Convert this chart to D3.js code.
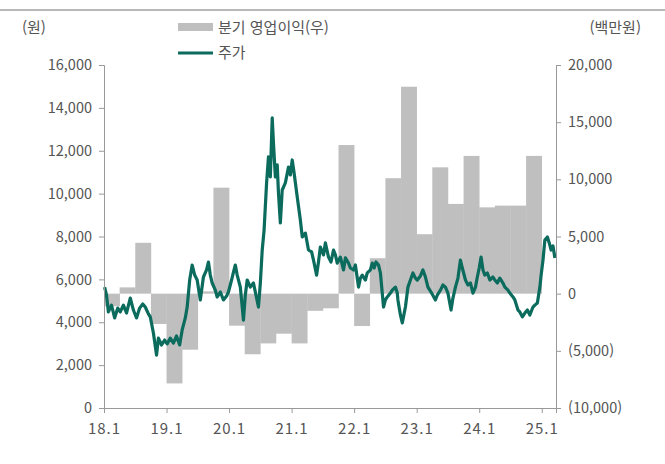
<!DOCTYPE html>
<html lang="ko">
<head>
<meta charset="UTF-8">
<title>분기 영업이익과 주가</title>
<script src="https://d3js.org/d3.v7.min.js"></script>
<style>
  html, body { margin: 0; padding: 0; background: #fff; }
  svg { display: block; }
  text { font-family: "Noto Sans CJK KR", "Noto Sans", sans-serif; fill: #555; }
  .axis path, .axis line { stroke: #999; }
  .axis text { font-size: 14.5px; fill: #555; }
  .axis.bottom text { font-size: 15px; letter-spacing: 1px; }
</style>
</head>
<body>
<svg width="665" height="464"></svg>
<script>
// 분기 영업이익 (백만원), 18.1Q ~ 24.4Q
const quarters = ["18.1Q","18.2Q","18.3Q","18.4Q","19.1Q","19.2Q","19.3Q","19.4Q",
  "20.1Q","20.2Q","20.3Q","20.4Q","21.1Q","21.2Q","21.3Q","21.4Q",
  "22.1Q","22.2Q","22.3Q","22.4Q","23.1Q","23.2Q","23.3Q","23.4Q",
  "24.1Q","24.2Q","24.3Q","24.4Q"];
const opProfit = [-1100, 550, 4450, -2650, -7850, -4900, 200, 9270,
  -2800, -5300, -4350, -3500, -4350, -1500, -1280, 13000,
  -2830, 3100, 10100, 18100, 5200, 11050, 7850, 12050,
  7550, 7700, 7700, 12050];

// 주가 (원), 시점은 연도(소수)
const priceTime = [2018.01,2018.04,2018.07,2018.12,2018.17,2018.22,2018.26,2018.31,2018.36,2018.42,
  2018.47,2018.52,2018.57,2018.62,2018.66,2018.71,2018.74,2018.79,2018.84,2018.87,
  2018.92,2018.97,2019.01,2019.06,2019.11,2019.16,2019.21,2019.25,2019.30,2019.33,
  2019.37,2019.41,2019.45,2019.49,2019.54,2019.59,2019.64,2019.67,2019.70,2019.73,
  2019.78,2019.81,2019.86,2019.91,2019.96,2019.99,2020.04,2020.07,2020.10,2020.13,
  2020.18,2020.23,2020.26,2020.29,2020.34,2020.39,2020.42,2020.47,2020.50,2020.53,
  2020.56,2020.60,2020.63,2020.66,2020.69,2020.71,2020.74,2020.77,2020.79,2020.82,
  2020.85,2020.90,2020.95,2020.98,2021.01,2021.04,2021.09,2021.14,2021.17,2021.22,
  2021.27,2021.32,2021.35,2021.40,2021.43,2021.46,2021.51,2021.54,2021.59,2021.63,
  2021.67,2021.70,2021.73,2021.78,2021.83,2021.86,2021.91,2021.94,2021.99,2022.02,
  2022.07,2022.10,2022.13,2022.18,2022.21,2022.26,2022.29,2022.32,2022.35,2022.39,
  2022.42,2022.47,2022.50,2022.53,2022.58,2022.61,2022.66,2022.69,2022.70,2022.74,
  2022.77,2022.82,2022.86,2022.90,2022.94,2022.98,2023.01,2023.06,2023.10,2023.14,
  2023.18,2023.23,2023.30,2023.33,2023.38,2023.42,2023.46,2023.50,2023.55,2023.58,
  2023.62,2023.66,2023.70,2023.73,2023.78,2023.82,2023.86,2023.90,2023.94,2023.97,
  2024.00,2024.03,2024.06,2024.09,2024.13,2024.17,2024.22,2024.25,2024.29,2024.33,
  2024.38,2024.41,2024.46,2024.49,2024.54,2024.57,2024.62,2024.65,2024.69,2024.73,
  2024.77,2024.81,2024.86,2024.89,2024.93,2024.97,2024.99,2025.02,2025.05,2025.09,
  2025.12,2025.15,2025.18,2025.21];
const priceValue = [5640,5270,4480,4800,4200,4660,4480,4800,4430,5130,
  4570,4200,4660,4850,4710,4390,4250,3500,2470,3260,
  2940,3170,2990,3260,3030,3360,2940,3640,4200,4710,
  5970,6670,6200,5970,5040,6110,6440,6810,6200,5830,
  5500,5180,5410,5040,5220,5410,5970,6340,6670,6200,
  5640,4100,5270,5970,5640,5830,5410,4710,5830,7370,
  8300,10500,11710,10780,13530,12360,10780,11340,10030,8630,
  10170,10500,11240,10870,11570,10960,9840,8770,7980,8160,
  7370,7280,6900,6200,6810,7510,7140,7700,7040,6810,
  7370,7140,6760,7040,6440,7000,6760,6530,6440,6670,
  5640,6060,6200,5970,6300,6440,6760,6530,6810,6670,
  6300,4710,5040,5180,5360,5500,5640,5360,5040,4340,
  3970,4710,5640,5970,6300,6060,5970,6160,6440,6110,
  5640,5410,5040,5270,5500,5740,5640,5360,4570,5130,
  5640,6060,6900,6530,5970,5740,5830,5360,5640,6110,
  6530,7040,6440,6200,6300,5970,6110,5970,5830,6060,
  5830,5640,5500,5360,5180,5040,4570,4480,4250,4430,
  4570,4340,4710,4800,4900,5640,6200,6900,7840,7980,
  7700,7370,7560,7000];

const yearTicks = [2018, 2019, 2020, 2021, 2022, 2023, 2024, 2025];
const leftTicks = [0, 2000, 4000, 6000, 8000, 10000, 12000, 14000, 16000];
const rightTicks = [-10000, -5000, 0, 5000, 10000, 15000, 20000];

const svg = d3.select("svg");
const plotL = 104, plotR = 556, plotT = 65, plotB = 408;

const x = d3.scaleLinear().domain([2018, 2025.228]).range([plotL, plotR]);
const yL = d3.scaleLinear().domain([0, 16000]).range([plotB, plotT]);
const yR = d3.scaleLinear().domain([-10000, 20000]).range([plotB, plotT]);

// top rule
svg.append("line").attr("x1", 0).attr("x2", 665).attr("y1", 10).attr("y2", 10)
  .attr("stroke", "#a0a0a0").attr("stroke-width", 1.5);

// bars (right axis)
svg.append("g").selectAll("rect")
  .data(opProfit)
  .join("rect")
  .attr("x", (d, i) => x(2018 + i * 0.25))
  .attr("width", (d, i) => x(2018 + (i + 1) * 0.25) - x(2018 + i * 0.25) + 0.3)
  .attr("y", d => yR(Math.max(0, d)))
  .attr("height", d => Math.abs(yR(d) - yR(0)))
  .attr("fill", "#bfbfbf");

// price line (left axis)
const line = d3.line()
  .x((d, i) => x(priceTime[i]))
  .y(d => yL(d));
svg.append("path")
  .datum(priceValue)
  .attr("d", line)
  .attr("fill", "none")
  .attr("stroke", "#0b6b5d")
  .attr("stroke-width", 3.2)
  .attr("stroke-linejoin", "round");

const fmt = d3.format(",");
const fmtR = d => d < 0 ? `(${fmt(-d)})` : fmt(d);

const axL = svg.append("g").attr("class", "axis")
  .attr("transform", `translate(${plotL},0)`)
  .call(d3.axisLeft(yL).tickValues(leftTicks).tickFormat(fmt).tickSize(5).tickPadding(7));
const axR = svg.append("g").attr("class", "axis")
  .attr("transform", `translate(${plotR},0)`)
  .call(d3.axisRight(yR).tickValues(rightTicks).tickFormat(fmtR).tickSize(5).tickPadding(7));
const axB = svg.append("g").attr("class", "axis bottom")
  .attr("transform", `translate(0,${plotB})`)
  .call(d3.axisBottom(x).tickValues(yearTicks).tickFormat(d => `${String(d).slice(2)}.1`).tickSize(5).tickPadding(10));
[axL, axR, axB].forEach(a => a.select(".domain").attr("stroke", "#999"));

// unit labels
svg.append("text").attr("x", 22).attr("y", 33).attr("font-size", 15).text("(원)");
svg.append("text").attr("x", 641).attr("y", 33).attr("font-size", 15)
  .attr("text-anchor", "end").text("(백만원)");

// legend
const lg = svg.append("g");
lg.append("rect").attr("x", 178).attr("y", 23).attr("width", 35).attr("height", 8).attr("fill", "#bfbfbf");
lg.append("text").attr("x", 218).attr("y", 33).attr("font-size", 15).text("분기 영업이익(우)");
lg.append("line").attr("x1", 178).attr("x2", 213).attr("y1", 53).attr("y2", 53)
  .attr("stroke", "#0b6b5d").attr("stroke-width", 3);
lg.append("text").attr("x", 218).attr("y", 58).attr("font-size", 15).text("주가");
</script>
</body>
</html>
